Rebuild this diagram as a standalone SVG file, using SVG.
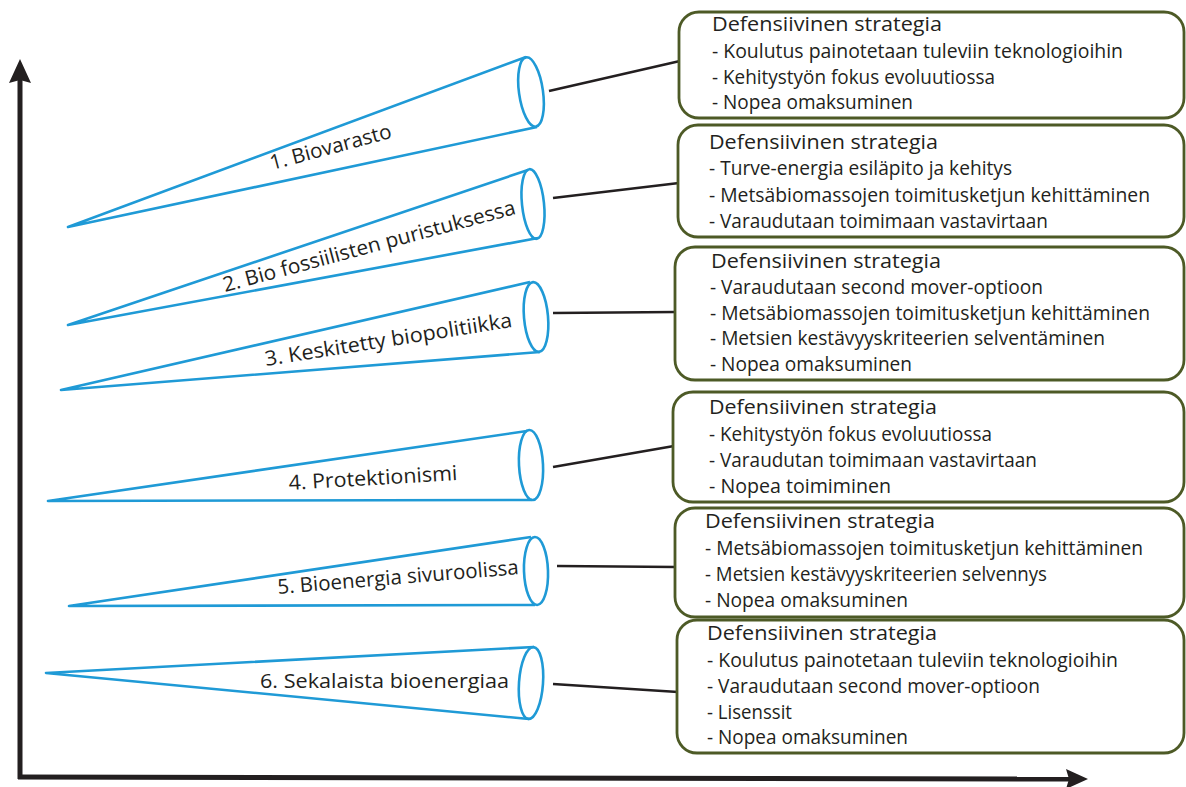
<svg xmlns="http://www.w3.org/2000/svg" width="1186" height="787" viewBox="0 0 1186 787">
  <defs>
    <style>
      .cone { fill: none; stroke: #1f9ad6; stroke-width: 2.6; stroke-linejoin: round; }
      .box { fill: #ffffff; stroke: #4d5a26; stroke-width: 2.8; }
      .link { stroke: #231f20; stroke-width: 2.6; fill: none; }
      .axis { stroke: #231f20; stroke-width: 5; fill: none; }
      .head { fill: #231f20; }
      text { font-family: "Open Sans", "Noto Sans", "DejaVu Sans", sans-serif; fill: #231f20; }
      .lbl { font-size: 20.5px; }
      .bt { font-size: 20px; }
    </style>
  </defs>
  <rect width="1186" height="787" fill="#ffffff"/>

  <!-- axes -->
  <g id="axes">
    <line class="axis" x1="20" y1="779" x2="20" y2="76"/>
    <path class="head" d="M20,59 L31,83 L20,80 L9,83 Z"/>
    <line class="axis" x1="18" y1="777" x2="1072" y2="779"/>
    <path class="head" d="M1088,779 L1066,769 L1069,779 L1066,789 Z"/>
  </g>

  <!-- connectors between cones and strategy boxes -->
  <g id="connectors">
    <line class="link" x1="549" y1="91" x2="680" y2="61"/>
    <line class="link" x1="553" y1="198" x2="679" y2="183"/>
    <line class="link" x1="553" y1="313" x2="676" y2="312"/>
    <line class="link" x1="553" y1="467" x2="674" y2="446"/>
    <line class="link" x1="557" y1="566" x2="676" y2="567"/>
    <line class="link" x1="553" y1="684" x2="678" y2="692"/>
  </g>

  <!-- scenario cones -->
  <g id="cone1">
    <path class="cone" d="M526,57 L68,227 L537,127"/>
    <ellipse class="cone" cx="531" cy="92" rx="12" ry="35" transform="rotate(-8 531 92)"/>
    <text class="lbl" transform="translate(272 170) rotate(-15)" textLength="125" lengthAdjust="spacingAndGlyphs">1. Biovarasto</text>
  </g>
  <g id="cone2">
    <path class="cone" d="M528,170 L68,325 L538,238"/>
    <ellipse class="cone" cx="533" cy="204" rx="11" ry="35" transform="rotate(-6 533 204)"/>
    <text class="lbl" transform="translate(225 292) rotate(-15)" textLength="302" lengthAdjust="spacingAndGlyphs">2. Bio fossiilisten puristuksessa</text>
  </g>
  <g id="cone3">
    <path class="cone" d="M530,282 L61,390 L540,352"/>
    <ellipse class="cone" cx="536" cy="317" rx="12" ry="35" transform="rotate(-5 536 317)"/>
    <text class="lbl" transform="translate(266 366) rotate(-9)" textLength="250" lengthAdjust="spacingAndGlyphs">3. Keskitetty biopolitiikka</text>
  </g>
  <g id="cone4">
    <path class="cone" d="M527,431 L48,501 L532,500"/>
    <ellipse class="cone" cx="531" cy="465" rx="12" ry="35" transform="rotate(-3 531 465)"/>
    <text class="lbl" transform="translate(289 490) rotate(-3.4)" textLength="169" lengthAdjust="spacingAndGlyphs">4. Protektionismi</text>
  </g>
  <g id="cone5">
    <path class="cone" d="M531,537 L69,606 L535,605"/>
    <ellipse class="cone" cx="536" cy="571" rx="12" ry="34" transform="rotate(-2 536 571)"/>
    <text class="lbl" transform="translate(278 594) rotate(-4.7)" textLength="242" lengthAdjust="spacingAndGlyphs">5. Bioenergia sivuroolissa</text>
  </g>
  <g id="cone6">
    <path class="cone" d="M534,647 L46,673 L529,719"/>
    <ellipse class="cone" cx="531" cy="683" rx="12" ry="36" transform="rotate(4 531 683)"/>
    <text class="lbl" x="260" y="688" textLength="249" lengthAdjust="spacingAndGlyphs">6. Sekalaista bioenergiaa</text>
  </g>

  <!-- strategy boxes -->
  <g id="box1">
    <rect class="box" x="679" y="12" width="505" height="106" rx="20" ry="20"/>
    <text class="bt" x="712" y="31" textLength="230" lengthAdjust="spacingAndGlyphs">Defensiivinen strategia</text>
    <text class="bt" x="712" y="58" textLength="411" lengthAdjust="spacingAndGlyphs">- Koulutus painotetaan tuleviin teknologioihin</text>
    <text class="bt" x="712" y="84" textLength="283" lengthAdjust="spacingAndGlyphs">- Kehitystyön fokus evoluutiossa</text>
    <text class="bt" x="712" y="109" textLength="201" lengthAdjust="spacingAndGlyphs">- Nopea omaksuminen</text>
  </g>
  <g id="box2">
    <rect class="box" x="678" y="125" width="506" height="112" rx="20" ry="20"/>
    <text class="bt" x="709" y="149" textLength="229" lengthAdjust="spacingAndGlyphs">Defensiivinen strategia</text>
    <text class="bt" x="709" y="175" textLength="303" lengthAdjust="spacingAndGlyphs">- Turve-energia esiläpito ja kehitys</text>
    <text class="bt" x="709" y="202" textLength="441" lengthAdjust="spacingAndGlyphs">- Metsäbiomassojen toimitusketjun kehittäminen</text>
    <text class="bt" x="709" y="228" textLength="339" lengthAdjust="spacingAndGlyphs">- Varaudutaan toimimaan vastavirtaan</text>
  </g>
  <g id="box3">
    <rect class="box" x="675" y="247" width="509" height="133" rx="20" ry="20"/>
    <text class="bt" x="711" y="268" textLength="230" lengthAdjust="spacingAndGlyphs">Defensiivinen strategia</text>
    <text class="bt" x="710" y="294" textLength="333" lengthAdjust="spacingAndGlyphs">- Varaudutaan second mover-optioon</text>
    <text class="bt" x="710" y="320" textLength="440" lengthAdjust="spacingAndGlyphs">- Metsäbiomassojen toimitusketjun kehittäminen</text>
    <text class="bt" x="710" y="345" textLength="395" lengthAdjust="spacingAndGlyphs">- Metsien kestävyyskriteerien selventäminen</text>
    <text class="bt" x="710" y="371" textLength="202" lengthAdjust="spacingAndGlyphs">- Nopea omaksuminen</text>
  </g>
  <g id="box4">
    <rect class="box" x="673" y="392" width="511" height="110" rx="20" ry="20"/>
    <text class="bt" x="709" y="414" textLength="228" lengthAdjust="spacingAndGlyphs">Defensiivinen strategia</text>
    <text class="bt" x="709" y="441" textLength="283" lengthAdjust="spacingAndGlyphs">- Kehitystyön fokus evoluutiossa</text>
    <text class="bt" x="709" y="467" textLength="328" lengthAdjust="spacingAndGlyphs">- Varaudutan toimimaan vastavirtaan</text>
    <text class="bt" x="709" y="493" textLength="182" lengthAdjust="spacingAndGlyphs">- Nopea toimiminen</text>
  </g>
  <g id="box5">
    <rect class="box" x="675" y="508" width="509" height="109" rx="20" ry="20"/>
    <text class="bt" x="705" y="528" textLength="230" lengthAdjust="spacingAndGlyphs">Defensiivinen strategia</text>
    <text class="bt" x="705" y="555" textLength="438" lengthAdjust="spacingAndGlyphs">- Metsäbiomassojen toimitusketjun kehittäminen</text>
    <text class="bt" x="705" y="581" textLength="342" lengthAdjust="spacingAndGlyphs">- Metsien kestävyyskriteerien selvennys</text>
    <text class="bt" x="705" y="607" textLength="203" lengthAdjust="spacingAndGlyphs">- Nopea omaksuminen</text>
  </g>
  <g id="box6">
    <rect class="box" x="677" y="620" width="507" height="133" rx="20" ry="20"/>
    <text class="bt" x="707" y="640" textLength="230" lengthAdjust="spacingAndGlyphs">Defensiivinen strategia</text>
    <text class="bt" x="707" y="667" textLength="411" lengthAdjust="spacingAndGlyphs">- Koulutus painotetaan tuleviin teknologioihin</text>
    <text class="bt" x="707" y="693" textLength="333" lengthAdjust="spacingAndGlyphs">- Varaudutaan second mover-optioon</text>
    <text class="bt" x="707" y="719" textLength="85" lengthAdjust="spacingAndGlyphs">- Lisenssit</text>
    <text class="bt" x="707" y="744" textLength="201" lengthAdjust="spacingAndGlyphs">- Nopea omaksuminen</text>
  </g>
</svg>
